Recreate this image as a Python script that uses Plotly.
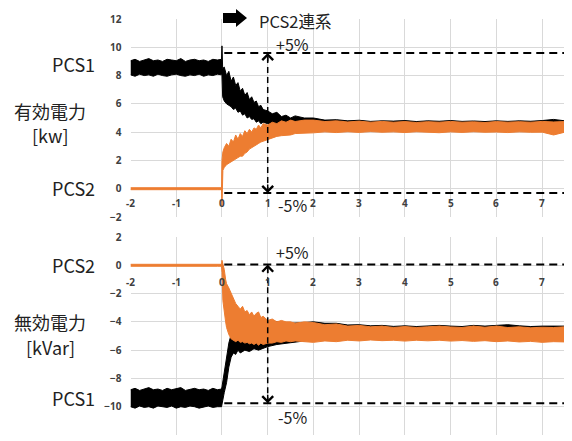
import plotly.graph_objects as go

# The page body adds an 8px margin, so the figure is drawn 8px smaller and all
# reference pixel positions are shifted by that offset.
REF_W, REF_H = 572, 441
OFF = 8
W, H = REF_W - OFF, REF_H - OFF

# ---------------- data ----------------
pre_x = [-2.0, -1.9, -1.8, -1.7, -1.6, -1.5, -1.4, -1.3, -1.2, -1.1, -1.0,
         -0.9, -0.8, -0.7, -0.6, -0.5, -0.4, -0.3, -0.2, -0.1, -0.01]
steady_x = [2.0, 2.25, 2.5, 2.75, 3.0, 3.25, 3.5, 3.75, 4.0, 4.25, 4.5, 4.75,
            5.0, 5.25, 5.5, 5.75, 6.0, 6.25, 6.5, 6.75, 7.0, 7.25, 7.5]

# ---- Active power (top panel) ----
# PCS1 (black)
p1_tx = [0.0, 0.015, 0.05, 0.1, 0.15, 0.2, 0.25, 0.3, 0.35, 0.4, 0.45, 0.5, 0.55, 0.6,
         0.65, 0.7, 0.75, 0.8, 0.85, 0.9, 1.0, 1.1, 1.2, 1.3, 1.4, 1.5, 1.6, 1.8]
p1_pre_hi = [9.05, 9.15, 9.0, 9.1, 9.2, 9.05, 9.1, 9.0, 9.15, 9.1, 9.05,
             9.2, 9.0, 9.1, 9.15, 9.05, 9.1, 9.0, 9.15, 9.1, 9.15]
p1_pre_lo = [8.05, 7.95, 8.1, 8.0, 8.05, 7.95, 8.1, 8.0, 7.95, 8.05, 8.1,
             8.0, 7.95, 8.05, 8.0, 8.1, 7.95, 8.05, 8.0, 8.1, 8.05]
p1_t_hi = [10.1, 8.5, 8.6, 8.0, 8.3, 7.6, 7.9, 7.3, 7.5, 6.9, 7.1, 6.6, 6.8, 6.3,
           6.5, 6.1, 6.2, 5.8, 5.9, 5.6, 5.5, 5.3, 5.4, 5.1, 5.2, 5.0, 5.15, 5.0]
p1_t_lo = [8.0, 6.5, 6.2, 6.0, 5.9, 5.8, 5.6, 5.7, 5.4, 5.5, 5.2, 5.3, 5.0, 5.1,
           4.9, 4.95, 4.7, 4.8, 4.6, 4.7, 4.6, 4.5, 4.5, 4.4, 4.4, 4.3, 4.3, 4.2]
p1_s_hi = [5.0, 4.85, 4.88, 4.8, 4.84, 4.76, 4.8, 4.78, 4.82, 4.75, 4.8, 4.77,
           4.82, 4.76, 4.79, 4.75, 4.8, 4.76, 4.8, 4.77, 4.82, 4.9, 4.8]
p1_s_lo = [4.1] * 23

# PCS2 (orange)
p2_tx = [0.0, 0.02, 0.05, 0.1, 0.15, 0.2, 0.25, 0.3, 0.35, 0.4, 0.45, 0.5, 0.55, 0.6,
         0.65, 0.7, 0.75, 0.8, 0.85, 0.9, 1.0, 1.1, 1.2, 1.3, 1.4, 1.5, 1.6, 1.8]
p2_pre_hi = [0.07] * 21
p2_pre_lo = [-0.07] * 21
p2_t_hi = [2.0, 2.6, 2.9, 3.2, 3.0, 3.5, 3.3, 3.8, 3.5, 3.9, 3.7, 4.1, 3.9, 4.2,
           4.0, 4.3, 4.2, 4.5, 4.3, 4.6, 4.5, 4.7, 4.6, 4.8, 4.7, 4.85, 4.75, 4.85]
p2_t_lo = [-1.2, 1.3, 1.5, 1.7, 1.8, 1.9, 2.0, 2.1, 2.2, 2.3, 2.3, 2.5, 2.6, 2.8,
           2.9, 3.0, 3.1, 3.2, 3.3, 3.4, 3.5, 3.6, 3.7, 3.75, 3.8, 3.8, 3.9, 3.9]
p2_s_hi = [4.85, 4.75, 4.8, 4.72, 4.78, 4.7, 4.76, 4.7, 4.75, 4.68, 4.74, 4.7,
           4.76, 4.7, 4.73, 4.68, 4.75, 4.7, 4.74, 4.7, 4.76, 4.72, 4.75]
p2_s_lo = [3.95, 4.02, 3.97, 4.03, 3.98, 4.04, 3.99, 4.02, 3.97, 4.03, 4.0, 3.96,
           4.02, 3.98, 4.03, 3.99, 4.01, 3.97, 4.02, 3.99, 4.0, 3.8, 4.0]

# ---- Reactive power (bottom panel) ----
# PCS1 (black)
q1_tx = [0.0, 0.05, 0.1, 0.15, 0.2, 0.25, 0.3, 0.35, 0.4, 0.5, 0.6, 0.7, 0.8, 0.9,
         1.0, 1.2, 1.5, 1.8]
q1_pre_hi = [-8.8, -8.7, -8.85, -8.75, -8.65, -8.8, -8.75, -8.85, -8.7, -8.8, -8.75,
             -8.65, -8.85, -8.75, -8.7, -8.8, -8.75, -8.85, -8.7, -8.8, -8.75]
q1_pre_lo = [-10.0, -10.1, -9.95, -10.05, -10.0, -10.1, -9.95, -10.0, -10.05, -9.95, -10.1,
             -10.0, -10.05, -9.95, -10.0, -10.1, -10.0, -9.95, -10.05, -10.0, -10.0]
q1_t_hi = [-8.6, -7.5, -6.5, -5.5, -4.9, -4.8, -4.5, -4.6, -4.3, -4.4, -4.2, -4.0,
           -3.8, -3.9, -4.0, -4.0, -4.1, -4.05]
q1_t_lo = [-9.9, -9.0, -8.3, -7.2, -6.5, -6.2, -6.3, -6.0, -6.2, -6.0, -6.1, -5.9,
           -6.0, -5.85, -5.75, -5.6, -5.45, -5.35]
q1_s_hi = [-4.0, -4.1, -4.1, -4.22, -4.2, -4.28, -4.25, -4.32, -4.28, -4.33, -4.3, -4.25,
           -4.3, -4.33, -4.25, -4.3, -4.25, -4.2, -4.28, -4.33, -4.3, -4.28, -4.3]
q1_s_lo = [-5.2] * 23

# PCS2 (orange)
q2_tx = [0.0, 0.02, 0.05, 0.08, 0.1, 0.15, 0.2, 0.25, 0.3, 0.35, 0.4, 0.45, 0.5, 0.55,
         0.6, 0.65, 0.7, 0.75, 0.8, 0.85, 0.9, 1.0, 1.1, 1.2, 1.3, 1.4, 1.5, 1.6, 1.8]
q2_pre_hi = [0.07] * 21
q2_pre_lo = [-0.07] * 21
q2_t_hi = [0.35, 0.1, -0.3, -1.0, -1.3, -1.6, -2.0, -2.4, -2.7, -2.9, -3.1, -2.9, -3.3, -3.2,
           -3.5, -3.3, -3.6, -3.4, -3.3, -3.7, -3.6, -3.9, -3.8, -4.0, -3.9, -4.0, -4.0, -4.1, -4.0]
q2_t_lo = [-0.5, -2.5, -3.4, -4.0, -4.4, -4.9, -5.2, -5.3, -5.4, -5.3, -5.45, -5.4, -5.5, -5.45,
           -5.55, -5.5, -5.6, -5.5, -5.65, -5.5, -5.6, -5.5, -5.5, -5.4, -5.45, -5.35, -5.4, -5.35, -5.4]
q2_s_hi = [-4.05, -4.2, -4.15, -4.3, -4.25, -4.35, -4.3, -4.4, -4.33, -4.4, -4.35, -4.3,
           -4.36, -4.4, -4.3, -4.38, -4.3, -4.4, -4.35, -4.42, -4.38, -4.4, -4.35]
q2_s_lo = [-5.45, -5.35, -5.4, -5.3, -5.35, -5.28, -5.33, -5.3, -5.36, -5.3, -5.34, -5.3,
           -5.36, -5.32, -5.38, -5.33, -5.4, -5.35, -5.42, -5.38, -5.45, -5.4, -5.42]

# ±5% reference levels: (upper, lower) for each panel
top_band = [9.6, -0.3]
bot_band = [0.05, -9.75]
band_start = 0.05
marker_x = 1.0

x_ticks = [-2, -1, 0, 1, 2, 3, 4, 5, 6, 7]
top_y_ticks = [-2, 0, 2, 4, 6, 8, 10, 12]
bot_y_ticks = [-12, -10, -8, -6, -4, -2, 0, 2]

BLACK = "#000000"
ORANGE = "#ED7D31"
GRID = "#d9d9d9"
TICKC = "#404040"
TXT = "#222222"
JP = "Noto Sans CJK JP"


def px(xp, yp):
    """reference-picture pixel -> paper fraction"""
    return (xp - OFF) / W, 1 - (yp - OFF) / H


def series(tx, pre_hi, pre_lo, t_hi, t_lo, s_hi, s_lo):
    xs = pre_x + tx + steady_x
    hi = pre_hi + t_hi + s_hi
    lo = pre_lo + t_lo + s_lo
    assert len(xs) == len(hi) == len(lo), (len(xs), len(hi), len(lo))
    return xs, hi, lo


def band(data, color, xa, ya):
    xs, hi, lo = data
    return go.Scatter(x=xs + xs[::-1], y=hi + lo[::-1],
                      fill="toself", fillcolor=color, mode="lines",
                      line=dict(color=color, width=1), xaxis=xa, yaxis=ya,
                      hoverinfo="skip", showlegend=False)


fig = go.Figure()
fig.add_trace(band(series(p1_tx, p1_pre_hi, p1_pre_lo, p1_t_hi, p1_t_lo, p1_s_hi, p1_s_lo), BLACK, "x", "y"))
fig.add_trace(band(series(p2_tx, p2_pre_hi, p2_pre_lo, p2_t_hi, p2_t_lo, p2_s_hi, p2_s_lo), ORANGE, "x", "y"))
fig.add_trace(band(series(q1_tx, q1_pre_hi, q1_pre_lo, q1_t_hi, q1_t_lo, q1_s_hi, q1_s_lo), BLACK, "x2", "y2"))
fig.add_trace(band(series(q2_tx, q2_pre_hi, q2_pre_lo, q2_t_hi, q2_t_lo, q2_s_hi, q2_s_lo), ORANGE, "x2", "y2"))

xd = [px(130.5, 0)[0], px(565, 0)[0]]
top_dom = [px(0, 217)[1], px(0, 19)[1]]
bot_dom = [px(0, 435)[1], px(0, 237)[1]]

axis_x = dict(range=[-2, 7.5], dtick=1, tick0=0, showgrid=True, gridcolor=GRID, gridwidth=1,
              showticklabels=False, zeroline=False, showline=False, ticks="", domain=xd)
tickfont = dict(family="Noto Sans", size=10, color=TICKC, weight="bold")
axis_y = dict(dtick=2, showgrid=True, gridcolor=GRID, gridwidth=1, zeroline=False,
              showline=False, ticks="", tickfont=tickfont, ticklabelstandoff=8)

fig.update_layout(
    width=W, height=H, margin=dict(l=0, r=0, t=0, b=0, autoexpand=False),
    paper_bgcolor="white", plot_bgcolor="white", showlegend=False,
    xaxis=dict(axis_x, anchor="y"),
    yaxis=dict(axis_y, range=[-2, 12], tickvals=top_y_ticks, domain=top_dom, anchor="x"),
    xaxis2=dict(axis_x, anchor="y2"),
    yaxis2=dict(axis_y, range=[-12, 2], tickvals=bot_y_ticks, domain=bot_dom, anchor="x2"),
)

dash = "8px,5px"
shapes = []
for (xr, yr, lv) in [("x", "y", top_band), ("x2", "y2", bot_band)]:
    for v in lv:
        shapes.append(dict(type="line", xref=xr, yref=yr, x0=band_start, x1=7.5, y0=v, y1=v,
                           line=dict(color=BLACK, width=2, dash=dash)))
    shapes.append(dict(type="line", xref=xr, yref=yr, x0=marker_x, x1=marker_x, y0=lv[1], y1=lv[0],
                       line=dict(color=BLACK, width=1.5, dash="6px,4px")))

# block arrow at the top
pts = [(223, 13), (236, 13), (236, 9), (247, 18), (236, 27), (236, 23), (223, 23)]
path = "M " + " L ".join(f"{px(a, b)[0]:.5f},{px(a, b)[1]:.5f}" for a, b in pts) + " Z"
shapes.append(dict(type="path", xref="paper", yref="paper", path=path,
                   fillcolor=BLACK, line=dict(color=BLACK, width=0)))
fig.update_layout(shapes=shapes)

ann = []
# arrowheads on the vertical marker
for (xr, yr, lv) in [("x", "y", top_band), ("x2", "y2", bot_band)]:
    ann.append(dict(x=marker_x, y=lv[0], xref=xr, yref=yr, text="", showarrow=True, arrowhead=4,
                    arrowsize=1.4, arrowwidth=1.5, arrowcolor=BLACK, ax=0, ay=10, standoff=0))
    ann.append(dict(x=marker_x, y=lv[1], xref=xr, yref=yr, text="", showarrow=True, arrowhead=4,
                    arrowsize=1.4, arrowwidth=1.5, arrowcolor=BLACK, ax=0, ay=-10, standoff=0))

# x tick labels drawn at the y=0 line
for xr, yr, sh in [("x", "y", -14), ("x2", "y2", -17)]:
    for t in x_ticks:
        ann.append(dict(x=t, y=0, xref=xr, yref=yr, text=str(t), showarrow=False, yshift=sh,
                        font=tickfont, xanchor="center", yanchor="middle", borderpad=0))

lab = dict(family=JP, size=16, color=TXT)
big = dict(family=JP, size=18, color=TXT)
ann += [
    dict(x=1.55, y=10.2, xref="x", yref="y", text="+5%", showarrow=False, font=lab, borderpad=0),
    dict(x=1.55, y=-1.13, xref="x", yref="y", text="-5%", showarrow=False, font=lab, borderpad=0),
    dict(x=1.55, y=0.92, xref="x2", yref="y2", text="+5%", showarrow=False, font=lab, borderpad=0),
    dict(x=1.55, y=-10.75, xref="x2", yref="y2", text="-5%", showarrow=False, font=lab, borderpad=0),
]


def ptxt(text, xp, yp, xanchor="center", font=big, yanchor="middle"):
    xx, yy = px(xp, yp)
    return dict(x=xx, y=yy, xref="paper", yref="paper", text=text, showarrow=False,
                xanchor=xanchor, yanchor=yanchor, font=font, align="center", borderpad=0)


ann += [
    ptxt("PCS2連系", 258, 8, "left", dict(family=JP, size=16.5, color=TXT), yanchor="top"),
    ptxt("PCS1", 96, 64, "right"),
    ptxt("有効電力", 50, 111),
    ptxt("[kw]", 50, 135),
    ptxt("PCS2", 96, 188, "right"),
    ptxt("PCS2", 96, 265, "right"),
    ptxt("無効電力", 50, 322),
    ptxt("[kVar]", 50, 347),
    ptxt("PCS1", 96, 398, "right"),
]
fig.update_layout(annotations=ann)

fig.write_html("out.html")
